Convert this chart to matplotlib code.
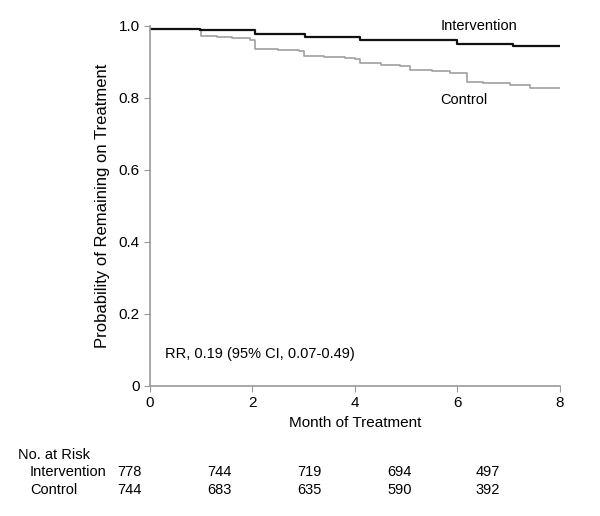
import matplotlib.pyplot as plt

plt.rcParams['font.family'] = ['Liberation Sans', 'DejaVu Sans']

# step curves (month, probability)
int_month = [0, 0.98, 2.05, 3.02, 4.1, 6.0, 7.08, 8.0]
int_prob = [0.990, 0.987, 0.978, 0.970, 0.961, 0.950, 0.944, 0.944]
ctl_month = [0, 1.0, 1.3, 1.6, 1.95, 2.05, 2.5, 2.9, 3.0, 3.4, 3.8, 4.0, 4.1, 4.5,
             4.88, 5.07, 5.5, 5.85, 6.18, 6.5, 7.02, 7.41, 8.0]
ctl_prob = [0.990, 0.972, 0.968, 0.965, 0.961, 0.935, 0.932, 0.929, 0.917, 0.914,
            0.910, 0.907, 0.896, 0.892, 0.887, 0.878, 0.874, 0.869, 0.845, 0.841,
            0.836, 0.827, 0.827]

risk_groups = ['Intervention', 'Control']
risk_int = [778, 744, 719, 694, 497]
risk_ctl = [744, 683, 635, 590, 392]

fig = plt.figure(figsize=(6, 5.16), dpi=100)
ax = fig.add_axes([0.25, 0.252, 0.683, 0.698])

ax.step(ctl_month, ctl_prob, where='post', color='#a0a0a0', lw=1.2)
ax.step(int_month, int_prob, where='post', color='#111111', lw=1.6)

ax.set_xlim(0, 8)
ax.set_ylim(0, 1.0)
ax.set_xticks([0, 2, 4, 6, 8])
ax.set_yticks([0, 0.2, 0.4, 0.6, 0.8, 1.0])
ax.set_yticklabels(['0', '0.2', '0.4', '0.6', '0.8', '1.0'])
for s in ['top', 'right']:
    ax.spines[s].set_visible(False)
for s in ['left', 'bottom']:
    ax.spines[s].set_color('#999999')
    ax.spines[s].set_linewidth(1.2)
ax.tick_params(colors='#999999', labelcolor='black', labelsize=11, length=4)
ax.set_xlabel('Month of Treatment', fontsize=11, labelpad=4)
ax.set_ylabel('Probability of Remaining on Treatment', fontsize=12, labelpad=6)

ax.text(5.67, 1.0, 'Intervention', fontsize=10.5, va='center')
ax.text(5.67, 0.795, 'Control', fontsize=10.5, va='center')
ax.text(0.3, 0.09, 'RR, 0.19 (95% CI, 0.07-0.49)', fontsize=10.5, va='center')

# number at risk table
col_px = [142, 232, 322, 412, 500]
fig.text(18 / 600, 1 - 455 / 516, 'No. at Risk', fontsize=10.5, va='center')
for row, (name, vals) in enumerate(zip(risk_groups, [risk_int, risk_ctl])):
    y = 1 - (472 + 18 * row) / 516
    fig.text(30 / 600, y, name, fontsize=10.5, va='center')
    for xp, v in zip(col_px, vals):
        fig.text(xp / 600, y, str(v), fontsize=10.5, va='center', ha='right')

fig.savefig('out.png', dpi=100)
